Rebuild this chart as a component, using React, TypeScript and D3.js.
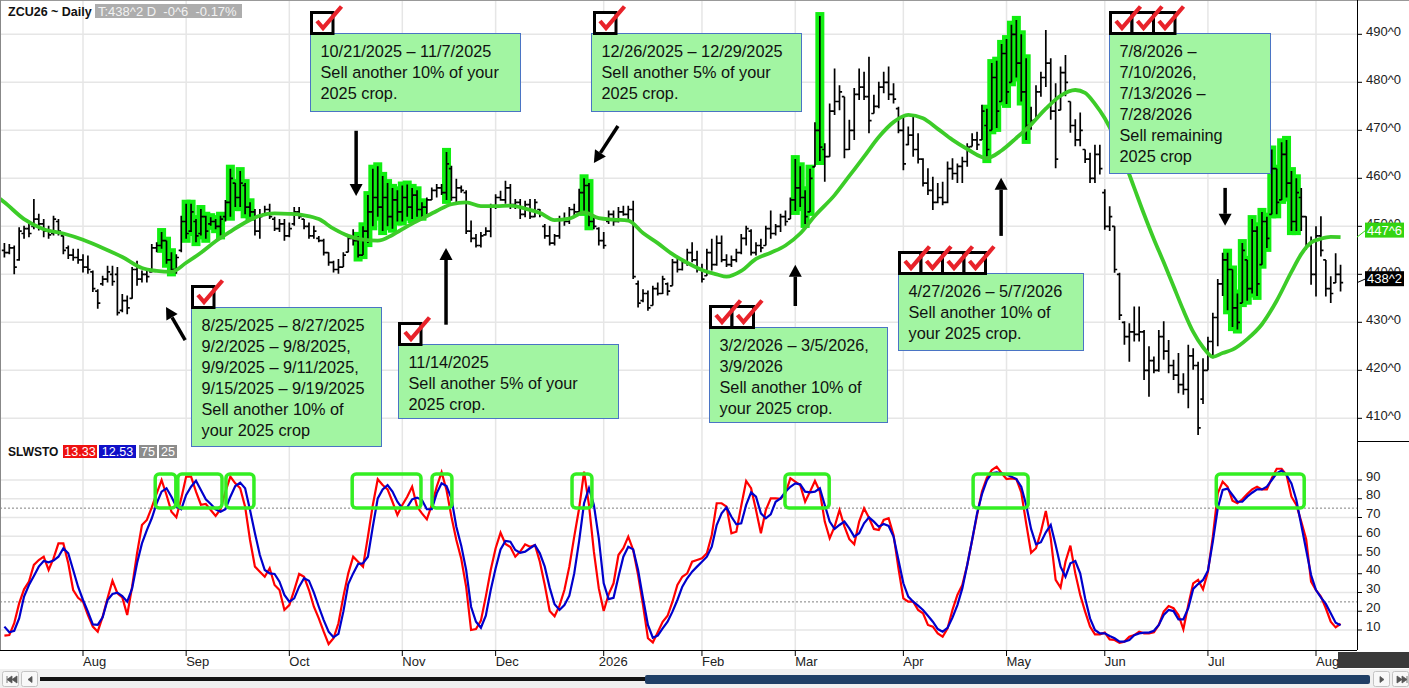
import * as d3 from "d3";
import { useEffect, useRef } from "react";

// ZCU26 daily bars, [high, low, open, close], one array per month
const jul25 = [
  [446.5, 443.5, 445, 444.5], [446.3, 444.2, 444.5, 445.5], [446, 440, 445.5, 441.5], [449.8, 442.8, 443, 449],
  [450.1, 447.4, 448.5, 449.5], [450.5, 447.7, 449.5, 448.5], [455.7, 449.4, 450, 451.5], [452.6, 449.1, 451.5, 450.5],
  [451.5, 447.7, 450.5, 449], [450.1, 447.4, 449, 448.2], [452.2, 448.1, 448.5, 451.5], [451.5, 448.1, 451, 449],
  [448.1, 444.2, 448, 445], [446, 443.2, 445.5, 444], [445.3, 442.8, 444, 443.5], [445.3, 442.2, 443.5, 443],
];
const aug25 = [
  [444.2, 440.4, 443, 441.5], [443.9, 440.1, 441.5, 441], [440.8, 436.3, 440.5, 437], [436.9, 432.8, 436.5, 434],
  [439.7, 437.6, 438, 439], [441.8, 438.3, 439, 440.5], [441.8, 437.6, 440, 438.5], [441.5, 431.4, 440, 432],
  [435.9, 432.1, 432.5, 434.5], [435.6, 431.7, 434.5, 433], [441.5, 434.9, 435, 441], [442.8, 437.6, 441, 439],
  [440.8, 438.3, 439, 440], [440.8, 438.3, 440, 439.5], [446.3, 440.4, 440.5, 445.5], [446.7, 444.6, 445.5, 446],
  [448.8, 445.3, 446, 447], [447, 442.2, 447, 443], [444.6, 440.4, 443, 441], [444.2, 440.1, 441, 443.5],
  [452.2, 444.6, 445, 451],
];
const sep25 = [
  [454.7, 447.4, 451, 448.5], [454.7, 448.8, 449, 453], [451.5, 446.7, 451, 448], [453.6, 448.1, 448.5, 452],
  [452.2, 447.4, 452, 449], [451.9, 450.1, 450.5, 451], [451.5, 449.4, 451, 450], [452.2, 448.1, 450, 451.5],
  [455.5, 451, 452, 455], [462, 452, 455, 460], [459, 454, 459, 456], [461.5, 454, 456, 459],
  [459, 452.5, 458.5, 454], [455, 452, 454, 453], [453.6, 448.1, 453, 449], [453.6, 447.4, 449, 452],
  [454.3, 452.2, 452.5, 453.5], [454.7, 451.5, 453.5, 452], [452, 449, 451.5, 449.5], [451.5, 448.8, 449.5, 450.5],
  [451.5, 447, 450.5, 448],
];
const oct25 = [
  [450.8, 447.7, 448, 449.5], [454, 450.1, 450.5, 453], [454, 451.5, 453, 452], [451.5, 449.4, 451.5, 450],
  [450.8, 447.4, 450, 448], [450.1, 447.4, 448, 449], [448, 446.7, 447.5, 447], [447.4, 443.9, 447, 444.5],
  [444.6, 441.8, 444.5, 442.5], [442.8, 440.4, 442.5, 441], [443.2, 440.1, 441, 441.5], [444.6, 441.5, 441.5, 444],
  [448.1, 444.6, 444.6, 447.5], [449.4, 446, 447.5, 447], [448, 443.5, 447, 444], [450, 444, 444, 449],
  [456.5, 446.5, 449, 453], [462, 450, 453, 456], [462.5, 452, 456, 454], [460.5, 449, 454, 456],
  [459, 450, 456, 452], [458, 449.5, 452, 455.5], [457.5, 451, 455.5, 453],
];
const nov25 = [
  [458.5, 451, 453, 456], [458.7, 452, 456, 454], [458, 451.5, 454, 456.5], [457.5, 452, 456.5, 453.5],
  [455, 452, 453.5, 454], [456, 452.5, 454, 455.5], [458.1, 455.5, 455.5, 457.5], [458.8, 456, 457.5, 458],
  [458.8, 456.5, 458, 457], [465.5, 455.5, 457, 463], [462.6, 455.3, 462, 456], [459.9, 455, 456, 458],
  [458.5, 457, 458, 457.5], [457.5, 448.4, 457, 449], [451.2, 446.7, 449, 447.5], [448.4, 445.6, 447.5, 446],
  [448.8, 445.6, 446, 448], [449.8, 448.1, 448.2, 449], [454.7, 447.7, 449, 454],
];
const dec25 = [
  [456.7, 453.6, 454, 456], [457.4, 455.3, 456, 455.5], [459.5, 454.7, 455.5, 458], [458.8, 453.6, 458, 454.5],
  [455.7, 453.6, 454.5, 455], [455.7, 451.5, 455, 452.5], [455.3, 451.9, 452.5, 454.5], [455.7, 451.5, 454.5, 452],
  [455.7, 451.9, 452, 455], [453.6, 451.9, 453.5, 452.5], [450.5, 447.4, 450, 448], [450.1, 446, 448, 446.5],
  [448.4, 446, 446.5, 448], [452.2, 447.4, 448, 451.5], [452.9, 450.1, 451.5, 451], [454, 450.5, 451, 453.5],
  [454.7, 452.2, 453.5, 453], [457.8, 453, 453, 457], [460, 453, 457, 458.5], [459, 450, 458.5, 451],
  [451.9, 449.4, 451, 450], [449.8, 446, 449.5, 447],
];
const jan26 = [
  [448.8, 445.3, 447, 446], [453.3, 450.5, 451, 452.5], [453.3, 450.1, 452.5, 451], [454, 450.8, 451, 453],
  [454.3, 452.2, 453, 452.5], [454.3, 451.5, 452.5, 453.5], [455.3, 439, 453.5, 439.5], [438.7, 433.1, 438, 434],
  [436.9, 434.2, 434.5, 436], [436.6, 432.4, 436, 433], [437.6, 433.5, 433.5, 437], [438.3, 435.6, 437, 436],
  [439.7, 435.9, 436, 439], [438.3, 435.6, 438, 436.5], [443.2, 437.6, 437.6, 442.5], [443.5, 440.4, 442.5, 441],
  [443.2, 440.8, 441, 442.5], [445.3, 441.8, 442.5, 444.5], [446.7, 442.5, 444.5, 443], [444.9, 440.4, 443, 441],
];
const feb26 = [
  [442.2, 438.3, 441, 439], [445.3, 439.7, 439.7, 444.5], [447.4, 440.8, 444.5, 442], [448.1, 441.8, 442, 446.5],
  [448.1, 442.5, 446.5, 443], [444.2, 441.5, 443, 442], [443.9, 441.5, 442, 443], [445.3, 442.5, 443, 444.5],
  [448.4, 444.2, 444.5, 447.5], [450.1, 446, 447.5, 449.5], [449.4, 443.9, 449, 444.5], [446.7, 443.9, 444.5, 446],
  [447.4, 444.6, 446, 445.5], [450.1, 446, 446, 449.5], [453.3, 447.4, 449.5, 448.5], [450.5, 448.1, 448.5, 450],
  [452.6, 448.8, 450, 452], [453.3, 450.1, 452, 451], [456, 451.5, 451.5, 455.5],
];
const mar26 = [
  [464, 453.2, 455.5, 458], [462.5, 454, 458, 456], [457.5, 450.5, 456, 452], [462, 453, 453, 460],
  [471.7, 462.4, 462.4, 470], [493.8, 463.6, 470, 466.5], [467.3, 459.3, 466, 464.5], [475.6, 464.5, 464.5, 474],
  [482.9, 473.2, 474, 476], [479.4, 474.2, 476, 478], [477, 464.2, 477, 466], [472.2, 465.9, 466, 470],
  [478.8, 468, 470, 477.5], [482.9, 476.3, 477.5, 479], [482.2, 476.3, 479, 477], [485.3, 469.4, 477, 472],
  [477.4, 473.5, 473.5, 475], [480.1, 474.6, 475, 479], [482.2, 477.7, 479, 480], [483.3, 476.3, 480, 477.5],
  [479.8, 475.6, 477.5, 476.5], [474.9, 469.4, 474.5, 470],
];
const apr26 = [
  [472.8, 461.7, 470, 463], [470.8, 466.9, 467, 469], [472.8, 464.5, 469, 466], [469.4, 463.1, 466, 464],
  [464.2, 458.3, 464, 459], [462.1, 456.5, 459, 457.5], [460.3, 453.4, 457.5, 455], [459, 454.8, 455, 456],
  [459.3, 454.4, 456, 455], [463.5, 454.8, 455, 462], [464.2, 459.7, 462, 461], [463.1, 459, 461, 462.5],
  [464.5, 459, 462.5, 463.5], [467.3, 462.4, 463.5, 466.5], [469.4, 466.6, 466.6, 468], [469.7, 465.9, 468, 467],
  [475.3, 468, 468, 474], [474.5, 464, 471, 466], [484, 470, 470, 481], [484.5, 470.5, 481, 474],
  [488, 476, 476, 486],
];
const may26 = [
  [489, 475.5, 486, 478], [492, 480, 480, 490], [493, 481, 490, 484], [490, 476, 484, 478],
  [485, 468, 478, 471], [474.9, 470.1, 471, 472], [479.4, 472.2, 472.2, 478], [482.2, 477, 478, 481],
  [490.9, 479, 481, 484], [485, 472.2, 484, 474], [479.8, 462.1, 474, 464], [483.3, 474.2, 474.2, 482],
  [485.7, 477.1, 482, 480], [476, 469.5, 476, 471], [472.3, 466.7, 471, 468], [473.7, 466.7, 468, 470],
  [466, 463.2, 466, 464], [465.3, 459, 464, 460], [467, 459, 460, 465], [467, 460.8, 465, 462],
];
const jun26 = [
  [457.7, 449.3, 457, 450], [454.2, 449, 450, 452], [450, 440.3, 450, 441], [440.3, 430.5, 440, 431.5],
  [430.2, 425.3, 430, 427], [429.8, 421.8, 427, 428], [433.3, 426, 428, 427.5], [433.3, 426, 427.5, 428],
  [428.4, 418, 428, 420], [425, 414.5, 420, 422], [422.9, 419.4, 422, 420], [428.4, 419.7, 420, 427],
  [430.2, 422.2, 427, 424], [426.3, 419.4, 424, 421], [422.2, 418, 421, 419], [423.6, 415.2, 419, 417],
  [419.4, 414.9, 417, 416], [425.3, 412.1, 416, 423], [424.6, 420.1, 423, 421], [421.8, 406.5, 421, 408],
  [422.5, 413, 414, 420],
];
const jul26 = [
  [427, 420, 420, 426], [432, 422.5, 426, 431], [439, 425, 431, 438], [444.5, 435.5, 438, 443],
  [444.5, 432.5, 443, 441], [441, 429, 441, 433], [436, 428.5, 433, 430], [446.5, 434, 430, 445],
  [443, 434.5, 445, 437], [451.5, 436, 437, 449], [450, 435.5, 449, 438], [453, 442, 438, 451],
  [452, 445.5, 451, 447.5], [466, 452.5, 452.5, 462], [462, 452.5, 462, 455], [467.5, 455.5, 455, 465],
  [468, 456, 465, 459], [461.5, 449, 459, 451], [460, 449, 451, 457], [458, 449, 456, 452],
  [452.1, 445.1, 452, 446], [447.9, 437.8, 446, 440],
];
const aug26 = [
  [450, 435.4, 440, 448], [452.1, 443.7, 448, 445], [443, 435.4, 445, 437], [439.6, 434, 437, 436],
  [444.4, 438.2, 436, 440], [442, 436.4, 440, 438.25],
];
const bars = [...jul25, ...aug25, ...sep25, ...oct25, ...nov25, ...dec25, ...jan26, ...feb26, ...mar26, ...apr26, ...may26, ...jun26, ...jul26, ...aug26];
const firstBar = -16; // bar index of first bar, Aug 1 2025 = 0

// time axis
const monthLabels = ["Aug", "Sep", "Oct", "Nov", "Dec", "2026", "Feb", "Mar", "Apr", "May", "Jun", "Jul", "Aug"];
const monthStarts = [0, 21, 42, 65, 84, 106, 126, 145, 167, 188, 208, 229, 251];
const priceTicks = [410, 420, 430, 440, 450, 460, 470, 480, 490];
const stochTicks = [10, 20, 30, 40, 50, 60, 70, 80, 90];

// slow stochastic %K (red) and %D (blue), one value per bar
const stochK = [
  7, 7.3, 13.6, 24.2, 31.7, 35.8, 44.7, 47.3, 49.1, 42, 48.2, 56.2, 56.2, 45.6, 31.3, 27.2,
  25.1, 18, 11.8, 9.1, 17.1, 26.9, 36.3, 29.6, 27.4, 18, 33.1, 50.9, 66, 68.7, 75.4, 82.9, 90, 82, 73.1, 70.1, 80.2,
  91.8, 91.8, 83.8, 76.8, 77.2, 74, 70.8, 74.4, 83.8, 91.8, 88.2, 85.6, 75.8, 58, 43.8, 41.1, 38.4, 42.9, 34, 31.3, 20.7,
  23.3, 31.3, 39.9, 38.4, 31.3, 22.4, 16.2, 9.1, 2.5, 5.6, 13.6, 27.8, 40.2, 49.1, 46.4, 43.8, 59.8, 76.7, 90.4, 87.3, 85, 78.4, 71.3,
  76.7, 81.1, 86.4, 75.8, 72.2, 69, 76.7, 86.4, 94.1, 84.7, 70.4, 58, 48, 33, 10, 10.5, 15, 27.8, 42,
  53.6, 61.9, 55.9, 54.3, 49.1, 51.8, 55.7, 54.4, 55.3, 46.4, 34, 20.1, 17.3, 23, 31.3, 43.8, 59.8, 74.9, 94.4, 76.7, 51.8, 32.2,
  20.1, 29, 34.9, 50, 53.6, 59.8, 52.7, 39.3, 23.3, 5.6, 3.4, 8.8, 14.4, 17.6, 25.1, 34, 38.4, 40.2, 46.4, 47.3,
  48.2, 50.9, 60.7, 77.6, 77.6, 75.8, 61.6, 62.4, 76.3, 89.5, 85.6, 74, 61.6, 74, 80.2, 80.2, 79.9, 82.9, 90.9,
  89.1, 87.3, 78.4, 83.8, 89.5, 83.8, 67.8, 58.9, 65.1, 74, 65.3, 58.4, 55.7, 67.8, 74.9, 69.9, 63.9, 63.3, 68.7, 69.6, 60.7, 42.9,
  26.9, 25.1, 25.1, 20.7, 18.9, 12.7, 11.8, 8.2, 6.4, 10.9, 20.7, 28.7, 34, 44.7, 58, 71.3, 83.8, 91.2, 95.3, 97.1, 93.6,
  90.5, 90.9, 90.5, 83.4, 66.9, 51.2, 53.6, 62.4, 73.5, 58.9, 36.7, 32.6, 46.4, 55, 40.2, 28.7, 19.8, 11.8, 7.7, 7.7,
  8.6, 5, 4.7, 3.2, 3.8, 6.4, 7.3, 9.1, 8.2, 8.2, 8.8, 12.7, 19.8, 22.8, 21.6, 18, 10.4, 23.3, 34.9, 36.7, 31.7,
  41.1, 59.8, 82.9, 89.1, 86.4, 79, 77.6, 79.7, 82.5, 85, 86.4, 85, 85, 90.9, 96, 96, 92.7, 81.1, 76.7, 67.8, 58.4, 35.8,
  31.3, 27.8, 21.6, 14.4, 11.4, 13.33,
];
const stochD = [
  11.8, 8.8, 9.6, 16.2, 27.8, 34, 38.8, 43.8, 46.8, 46.1, 47, 49.1, 53.6, 50.9, 42, 33.1,
  26, 19.8, 13, 12.7, 16.8, 26, 29.2, 29.9, 28.1, 25.1, 32.2, 45.6, 56.2, 63.3, 69.6, 77.6, 83.8, 85.6, 81.1, 75.8, 74.4,
  82, 86.4, 89.6, 84.7, 79.7, 77.2, 74.4, 73.1, 74.4, 81.1, 86.8, 88.6, 85.6, 74, 61.6, 50, 42, 40.2, 39.9, 35.8, 28.7,
  25.1, 26.9, 33.1, 37.6, 36.3, 29.9, 22.4, 15.3, 9.1, 6.1, 7.9, 19.8, 34.5, 40.2, 45.2, 45.6, 49.1, 65.1, 80.2, 85, 87.3, 83.8, 78.4,
  74.9, 75.4, 79.7, 80.6, 79.3, 74.4, 74.4, 82.9, 88.2, 86.8, 80.2, 65.1, 55, 42, 22.4, 14.4, 11.2, 17.6, 31.3,
  42.9, 53, 57.5, 57.1, 52.7, 51.2, 51.8, 53.6, 55.3, 50.9, 43.8, 32.6, 23.7, 20.7, 23.3, 28.3, 40.2, 57.5, 77.6, 85.6, 76.7, 58.9,
  34.9, 26.5, 27.2, 38.4, 49.1, 54.4, 53, 42, 26.9, 12.7, 5.9, 7, 10.9, 14.4, 19.8, 26, 33.1, 37.6, 41.1, 43.8,
  46.4, 49.1, 54.4, 66, 72.2, 75.4, 70.4, 66.4, 66.9, 76.7, 83.4, 81.1, 72.2, 69.6, 71.7, 78.4, 80.2, 83.8, 86.4,
  88.2, 87.7, 83.8, 83.4, 83.8, 85.6, 76.7, 67.8, 63.9, 66, 67.8, 64.2, 59.8, 61.6, 66.9, 70.1, 67.8, 65.1, 66.5, 65.5, 59.8, 47.3,
  34.9, 27.8, 25.1, 23, 20.7, 17.6, 14.4, 10.5, 9.1, 11.2, 16.6, 23.3, 32.2, 44.7, 58, 72.2, 82.4, 89.8, 93.6, 94.1, 93.6,
  93, 91.8, 90.5, 86.4, 76.7, 63.9, 55.7, 56.8, 62.1, 66, 55.3, 43.8, 38.4, 45.6, 46.8, 40.2, 26.9, 16.2, 10, 8.2,
  8.2, 6.8, 5.6, 3.8, 3.8, 4.7, 7.2, 8.2, 8.6, 8.6, 9.6, 12.7, 18, 20.7, 20.1, 15.7, 15.7, 21.6, 31.9, 34.5, 36.7,
  41.6, 57.1, 74.9, 84.7, 85.4, 82, 78.4, 78.4, 81.1, 83.2, 85, 85, 86.4, 90, 93.6, 95, 92.7, 88.2, 79.3, 66, 52.7, 39.3,
  31.3, 27.4, 23.9, 18.9, 13.9, 12.53,
];

// moving average, read as [bar index, price]
const maPoints = [
  [-17, 455.8], [-16, 455], [-12, 451.5], [-8, 449.4], [-4, 448.5], [0, 447.2], [4, 445.5], [8, 443.6], [12, 441.3],
  [15, 440.7], [18, 440.5], [21, 442.4], [24, 444.5], [27, 446.9], [30, 448.9], [33, 450.8], [36, 452.2], [39, 452.7],
  [42, 452.6], [45, 452.3], [48, 451.5], [51, 449.5], [54, 448], [57, 447.2], [60, 447], [63, 448.2], [66, 450],
  [69, 451.6], [72, 453.2], [75, 454.6], [78, 455], [81, 454.2], [84, 454.2], [87, 454.3], [90, 453.7], [93, 452.8],
  [96, 451.3], [99, 451.6], [102, 452.9], [105, 451.7], [108, 451.4], [111, 451.2], [114, 448.6], [117, 446.5],
  [120, 444.2], [123, 442.4], [126, 440.9], [129, 440], [131, 439.5], [134, 440.7], [137, 443.2], [140, 444.5],
  [143, 446], [146, 448.5], [149, 452.2], [153, 456.5], [156, 460.5], [159, 464.5], [162, 468.6], [165, 471.7],
  [168, 473.2], [171, 472.5], [174, 470.3], [177, 468], [180, 466.1], [184, 464.2], [187, 465.8], [190, 468.4],
  [193, 471.2], [196, 474.5], [199, 477.2], [202, 478.4], [204, 477.8], [206, 475.5], [208, 472.5], [210, 468.5],
  [212, 463.5], [214, 458], [216, 452.5], [218, 447.3], [220, 442.5], [222, 437.5], [224, 432.5], [226, 428],
  [228, 424.8], [230, 422.8], [232, 423.6], [234, 424.3], [237, 426.5], [240, 429.6], [243, 434.5], [246, 440.5],
  [248, 444.2], [250, 446.6], [252, 447.4], [254, 447.8], [256, 447.75],
];

// sell windows (bar index ranges) painted green
const sellRanges = [[16, 18], [21, 25], [26, 28], [30, 34], [56, 69], [74, 74], [102, 103], [145, 148], [150, 150], [184, 192], [233, 235], [236, 247]];
// boxes drawn on the stochastic panel, bar index from / to
const stochBoxes = [[14.7, 18.9], [19.3, 28.3], [29.1, 34.8], [54.8, 68.8], [71.05, 75.1], [99.55, 103.6], [142.9, 151.9], [181.2, 192.4], [230.7, 248.6]];

const calloutText = [
  ["10/21/2025 – 11/7/2025", "Sell another 10% of your", "2025 crop."],
  ["12/26/2025 – 12/29/2025", "Sell another 5% of your", "2025 crop."],
  ["7/8/2026 –", "7/10/2026,", "7/13/2026 –", "7/28/2026", "Sell remaining", "2025 crop"],
  ["8/25/2025 – 8/27/2025", "9/2/2025 – 9/8/2025,", "9/9/2025 – 9/11/2025,", "9/15/2025 – 9/19/2025", "Sell another 10% of", "your 2025 crop"],
  ["11/14/2025", "Sell another 5% of your", "2025 crop."],
  ["3/2/2026 – 3/5/2026,", "3/9/2026", "Sell another 10% of", "your 2025 crop."],
  ["4/27/2026 – 5/7/2026", "Sell another 10% of", "your 2025 crop."],
];
const calloutChecks = [1, 1, 3, 1, 1, 2, 4];
// anchor [bar index, price] of top-left corner, then size in px
const calloutLayout = [
  [46.2, 490.3, 210, 78], [103.4, 490.3, 210, 78], [208.9, 490.3, 161, 140], [22.0, 433.2, 190, 139],
  [64.1, 425.5, 220, 74], [127.4, 429.0, 178, 95], [165.9, 440.3, 185, 77],
];
// arrows: tail [index, price] -> head [index, price]
const arrows = [
  [20.8, 426.3, 16.9, 433.2], [55.6, 469.9, 55.6, 456.3], [73.9, 429.5, 73.9, 445.5], [108.9, 470.9, 104.0, 463.2],
  [145, 433.4, 145, 442], [186.9, 448, 186.9, 460.1], [232.5, 458, 232.5, 450.1],
];

const fmt = (v: number) => {
  const w = Math.floor(v);
  return `${w}^${Math.round((v - w) * 8)}`;
};

const App = () => {
  const ref: any = useRef();

  useEffect(() => {
    try {
      const svg = d3.select(ref.current);
      svg.selectAll("*").remove();

      const axisX = 1357;
      const font = "'Liberation Sans', Arial, sans-serif";
      const x = d3.scaleLinear().domain([0, 251]).range([83, 1316]);
      const yP = d3.scaleLinear().domain([410, 490]).range([418.3, 34.3]);
      const yS = d3.scaleLinear().domain([10, 90]).range([630, 480]);

      svg.append("rect").attr("width", 1409).attr("height", 688).attr("fill", "#fff");

      const defs = svg.append("defs");
      defs.append("clipPath").attr("id", "clipP").append("rect").attr("x", 0).attr("y", 0).attr("width", axisX).attr("height", 441);
      defs.append("clipPath").attr("id", "clipS").append("rect").attr("x", 0).attr("y", 442).attr("width", axisX).attr("height", 208);

      // grid
      const grid = svg.append("g").attr("stroke", "#e6e6e6").attr("stroke-width", 1.5);
      monthStarts.forEach((i) => grid.append("line").attr("x1", x(i)).attr("x2", x(i)).attr("y1", 0).attr("y2", 650));
      priceTicks.forEach((t) => grid.append("line").attr("x1", 0).attr("x2", axisX).attr("y1", yP(t)).attr("y2", yP(t)));
      stochTicks.forEach((t) => grid.append("line").attr("x1", 0).attr("x2", axisX).attr("y1", yS(t)).attr("y2", yS(t)));
      [75, 25].forEach((v) =>
        svg.append("line").attr("x1", 0).attr("x2", axisX).attr("y1", yS(v)).attr("y2", yS(v))
          .attr("stroke", "#808080").attr("stroke-width", 1).attr("stroke-dasharray", "2,2"));

      // bars
      const data = bars.map((b, k) => ({ i: firstBar + k, h: b[0], l: b[1], o: b[2], c: b[3] }));
      const hl = new Set<number>();
      sellRanges.forEach(([a, b]) => { for (let i = a; i <= b; i++) hl.add(i); });

      const pricePanel = svg.append("g").attr("clip-path", "url(#clipP)");
      pricePanel.selectAll("rect.hl").data(data.filter((d) => hl.has(d.i))).join("rect")
        .attr("x", (d) => x(d.i) - 4.5).attr("width", 9)
        .attr("y", (d) => yP(d.h) - 4).attr("height", (d) => yP(d.l) - yP(d.h) + 8)
        .attr("fill", "#11ee11");

      pricePanel.selectAll("path.bar").data(data).join("path")
        .attr("d", (d) => {
          const xi = x(d.i);
          const o = Math.max(d.l, Math.min(d.h, d.o));
          const c = Math.max(d.l, Math.min(d.h, d.c));
          return `M${xi},${yP(d.h)}V${yP(d.l)}M${xi - 2.6},${yP(o)}H${xi}M${xi},${yP(c)}H${xi + 2.6}`;
        })
        .attr("stroke", "#000").attr("stroke-width", 1.7).attr("fill", "none");

      const maLine = d3.line<number[]>().x((d) => x(d[0])).y((d) => yP(d[1])).curve(d3.curveMonotoneX);
      pricePanel.append("path").attr("d", maLine(maPoints)).attr("fill", "none")
        .attr("stroke", "#3ccc28").attr("stroke-width", 3.8).attr("stroke-linejoin", "round");

      // stochastic
      const stPanel = svg.append("g").attr("clip-path", "url(#clipS)");
      const stLine = d3.line<number>().x((_, k) => x(firstBar + k)).y((d) => yS(d));
      stPanel.append("path").attr("d", stLine(stochK)).attr("fill", "none").attr("stroke", "#ff0000").attr("stroke-width", 2.2);
      stPanel.append("path").attr("d", stLine(stochD)).attr("fill", "none").attr("stroke", "#0000cc").attr("stroke-width", 2.2);
      stochBoxes.forEach(([a, b]) =>
        stPanel.append("rect").attr("x", x(a)).attr("width", x(b) - x(a))
          .attr("y", yS(93.2)).attr("height", yS(75.1) - yS(93.2)).attr("rx", 4)
          .attr("fill", "none").attr("stroke", "#33ee22").attr("stroke-width", 3.5));

      // borders
      svg.append("line").attr("x1", 0).attr("x2", 1409).attr("y1", 0.5).attr("y2", 0.5).attr("stroke", "#999");
      svg.append("line").attr("x1", 0.5).attr("x2", 0.5).attr("y1", 0).attr("y2", 650).attr("stroke", "#888");
      svg.append("line").attr("x1", axisX + 0.5).attr("x2", axisX + 0.5).attr("y1", 0).attr("y2", 650).attr("stroke", "#000");
      svg.append("line").attr("x1", axisX).attr("x2", 1409).attr("y1", 441.5).attr("y2", 441.5).attr("stroke", "#000");
      svg.append("line").attr("x1", 0).attr("x2", axisX).attr("y1", 650.5).attr("y2", 650.5).attr("stroke", "#000");

      // right axis
      priceTicks.forEach((t) => {
        svg.append("line").attr("x1", axisX).attr("x2", axisX + 5).attr("y1", yP(t)).attr("y2", yP(t)).attr("stroke", "#000");
        svg.append("text").attr("x", 1366).attr("y", yP(t) + 2).text(fmt(t))
          .attr("font-family", font).attr("font-size", 13).attr("fill", "#222");
      });
      stochTicks.forEach((t) => {
        svg.append("line").attr("x1", axisX).attr("x2", axisX + 5).attr("y1", yS(t)).attr("y2", yS(t)).attr("stroke", "#000");
        svg.append("text").attr("x", 1366).attr("y", yS(t) + 0.5).text(t)
          .attr("font-family", font).attr("font-size", 13).attr("fill", "#222");
      });

      // last value markers
      const lastMa = maPoints[maPoints.length - 1][1];
      const lastClose = bars[bars.length - 1][3];
      [[lastMa, "#33d411", yP(lastMa) - 7], [lastClose, "#000", yP(lastClose) - 4]].forEach(([v, col, cy]: any) => {
        svg.append("line").attr("x1", axisX).attr("y1", yP(v)).attr("x2", 1366).attr("y2", cy)
          .attr("stroke", col).attr("stroke-width", 1);
        svg.append("rect").attr("x", 1365).attr("y", cy - 7.5).attr("width", 39).attr("height", 15).attr("fill", col);
        svg.append("text").attr("x", 1384.5).attr("y", cy + 4.5).attr("text-anchor", "middle").text(fmt(v))
          .attr("font-family", font).attr("font-size", 13).attr("fill", "#fff");
      });

      // time axis
      monthStarts.forEach((i, k) => {
        svg.append("line").attr("x1", x(i)).attr("x2", x(i)).attr("y1", 650).attr("y2", 656).attr("stroke", "#000");
        svg.append("text").attr("x", x(i) - (monthLabels[k] === "2026" ? 5 : 0)).attr("y", 666).text(monthLabels[k])
          .attr("font-family", font).attr("font-size", 13).attr("fill", "#222");
      });

      // headers
      svg.append("text").attr("x", 8).attr("y", 16).text("ZCU26 ~ Daily")
        .attr("font-family", font).attr("font-weight", "bold").attr("font-size", 12.5).attr("fill", "#111");
      svg.append("rect").attr("x", 95).attr("y", 4).attr("width", 147).attr("height", 14).attr("fill", "#adadad");
      svg.append("text").attr("x", 98).attr("y", 15.5).text(`T:${fmt(lastClose)} D  -0^6  -0.17%`)
        .style("white-space", "pre").attr("font-family", font).attr("font-size", 13).attr("fill", "#f2f2f2");

      svg.append("text").attr("x", 8).attr("y", 456).text("SLWSTO")
        .attr("font-family", font).attr("font-weight", "bold").attr("font-size", 12).attr("fill", "#111");
      [[63, 34, "#ee1111", stochK[stochK.length - 1].toFixed(2)], [99, 37, "#1010c8", stochD[stochD.length - 1].toFixed(2)],
       [139, 18, "#8c8c8c", "75"], [159, 18, "#8c8c8c", "25"]].forEach(([bx, bw, col, t]: any) => {
        svg.append("rect").attr("x", bx).attr("y", 445).attr("width", bw).attr("height", 13).attr("fill", col);
        svg.append("text").attr("x", bx + bw / 2).attr("y", 456).attr("text-anchor", "middle").text(t)
          .attr("font-family", font).attr("font-size", 12.5).attr("fill", "#fff");
      });

      // arrows
      arrows.forEach(([i1, p1, i2, p2]) => {
        const x1 = x(i1), y1 = yP(p1), x2 = x(i2), y2 = yP(p2);
        const a = Math.atan2(y2 - y1, x2 - x1);
        const bx = x2 - 12 * Math.cos(a), by = y2 - 12 * Math.sin(a);
        svg.append("line").attr("x1", x1).attr("y1", y1).attr("x2", bx).attr("y2", by).attr("stroke", "#000").attr("stroke-width", 3.5);
        svg.append("path").attr("fill", "#000")
          .attr("d", `M${x2},${y2}L${bx + 6.5 * Math.sin(a)},${by - 6.5 * Math.cos(a)}L${bx - 6.5 * Math.sin(a)},${by + 6.5 * Math.cos(a)}Z`);
      });

      // callouts
      calloutLayout.forEach(([ci, cp, w, h], k) => {
        const bx = Math.round(x(ci)) + 0.5, by = Math.round(yP(cp)) + 0.5;
        const g = svg.append("g");
        g.append("rect").attr("x", bx).attr("y", by).attr("width", w).attr("height", h)
          .attr("fill", "#a2f5a2").attr("stroke", "#4a74c4").attr("stroke-width", 1);
        calloutText[k].forEach((t, j) =>
          g.append("text").attr("x", bx + 10).attr("y", by + 23.5 + j * 21).text(t)
            .attr("font-family", font).attr("font-size", 16.3).attr("fill", "#111"));
        const cx0 = bx + (k === 1 ? 3 : 1);
        for (let j = 0; j < calloutChecks[k]; j++) {
          g.append("rect").attr("x", cx0 + j * 21.5).attr("y", by - 21).attr("width", 21.5).attr("height", 21)
            .attr("fill", "#fff").attr("stroke", "#000").attr("stroke-width", 3);
        }
        for (let j = 0; j < calloutChecks[k]; j++) {
          const ox = cx0 + j * 21.5, oy = by - 21;
          g.append("path").attr("d", `M${ox + 5.5},${oy + 8.5}L${ox + 11.5},${oy + 15.5}L${ox + 30},${oy - 6}`)
            .attr("fill", "none").attr("stroke", "#e8222a").attr("stroke-width", 4.2);
        }
      });

      // scrollbar
      svg.append("rect").attr("x", 1338).attr("y", 652).attr("width", 71).attr("height", 16).attr("fill", "#3a3a3a");
      svg.append("rect").attr("x", 0).attr("y", 669).attr("width", 1409).attr("height", 19).attr("fill", "#f0f0f0");
      svg.append("line").attr("x1", 40).attr("x2", 646).attr("y1", 679).attr("y2", 679).attr("stroke", "#111").attr("stroke-width", 4);
      svg.append("rect").attr("x", 645).attr("y", 675).attr("width", 725).attr("height", 9).attr("rx", 2).attr("fill", "#1f3f66");
      [[2, "M12,676L7,679.5L12,683ZM7,676V683M17,676L12,679.5L17,683Z"], [21, "M32,676.5L28,679.5L32,682.5Z"],
       [1373, "M1380,676.5L1384,679.5L1380,682.5Z"], [1392, "M1397,676L1402,679.5L1397,683ZM1402,676L1407,679.5L1402,683ZM1407,676V683"]]
        .forEach(([bx, d]: any) => {
          svg.append("rect").attr("x", bx + 0.5).attr("y", 671.5).attr("width", 16).attr("height", 15).attr("rx", 2)
            .attr("fill", "#f8f8f8").attr("stroke", "#c4c4c4");
          svg.append("path").attr("d", d).attr("fill", "#555").attr("stroke", "#555").attr("stroke-width", 0.8);
        });
    } catch (error) {
      console.log(error);
    }
  }, []);

  return (
    <>
      <style>{`body{margin:0}`}</style>
      <svg ref={ref} width={1409} height={688} style={{ display: "block" }} />
    </>
  );
};

export default App;
